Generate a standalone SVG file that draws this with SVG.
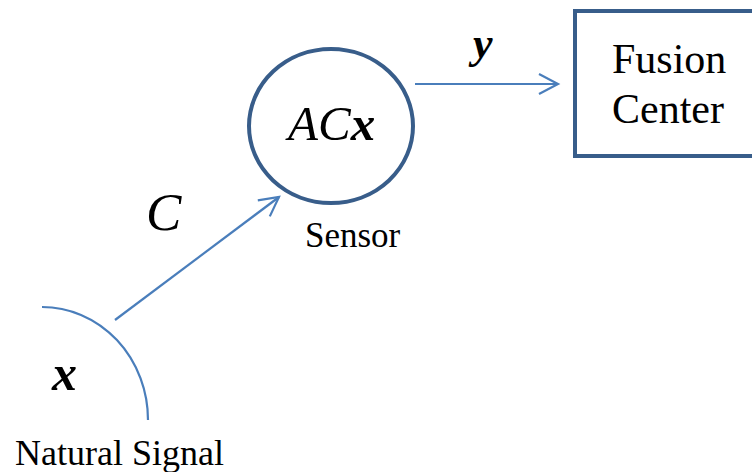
<svg xmlns="http://www.w3.org/2000/svg" width="752" height="472" viewBox="0 0 752 472">
<defs>
<style>
.node{fill:#fff;stroke:#385D8A;stroke-width:4}
.conn{fill:none;stroke:#4A7EBB;stroke-width:2.2}
.it{font-style:italic}
.bi{font-style:italic;font-weight:bold}
</style>
<marker id="open" viewBox="0 0 12 12" refX="11" refY="6" markerWidth="12" markerHeight="12" markerUnits="userSpaceOnUse" orient="auto" overflow="visible">
<path d="M-8,-4 L11,6 L-8,16" fill="none" stroke="#4A7EBB" stroke-width="2.2"/>
</marker>
</defs>
<rect width="752" height="472" fill="#fff"/>
<g id="connectors">
<path class="conn" d="M415,84 L558,84" marker-end="url(#open)"/>
<path class="conn" d="M115,320 L279,197" marker-end="url(#open)"/>
</g>
<g font-family="'Liberation Serif', 'Times New Roman', 'DejaVu Serif', serif" fill="#000">
<g id="natural-signal">
<path class="conn" d="M42,307 A106,113 0 0 1 148,420"/>
<text class="bi" x="52" y="390" font-size="50">x</text>
<text x="15" y="465" font-size="36">Natural Signal</text>
</g>
<g id="sensor">
<ellipse class="node" cx="331" cy="126" rx="82" ry="77"/>
<text x="288" y="140" font-size="49"><tspan class="it">AC</tspan><tspan class="bi">x</tspan></text>
<text x="305" y="247" font-size="35">Sensor</text>
</g>
<g id="fusion-center">
<rect class="node" x="575" y="11" width="200" height="145"/>
<text x="612" y="73" font-size="42">Fusion</text>
<text x="612" y="123" font-size="42">Center</text>
</g>
<text class="bi" x="473" y="58" font-size="44">y</text>
<text class="it" x="146" y="230" font-size="53">C</text>
</g>
</svg>
